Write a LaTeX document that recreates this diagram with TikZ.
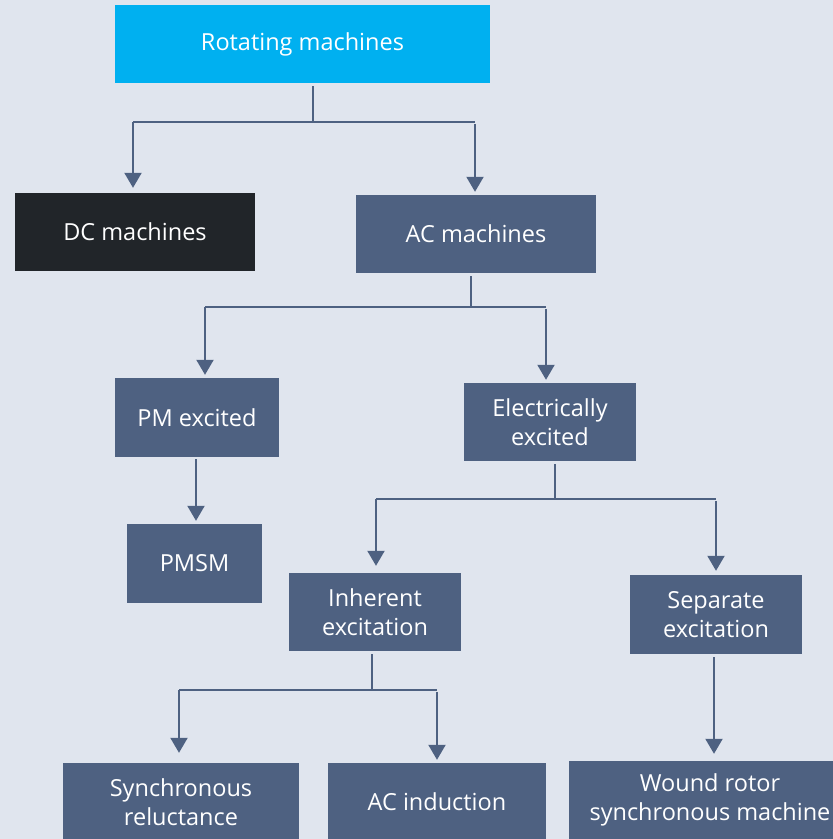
\documentclass[tikz,border=0pt]{standalone}
\usepackage{fontspec}
\setmainfont{Open Sans}
\usetikzlibrary{arrows.meta, positioning}
\definecolor{bgpanel}{HTML}{E0E5EE}
\definecolor{topcyan}{HTML}{00B0F0}
\definecolor{dcdark}{HTML}{212529}
\definecolor{slate}{HTML}{4E6181}

\begin{document}
\begin{tikzpicture}[x=1pt, y=-1pt,
    machine/.style={rectangle, fill=slate, text=white, align=center, inner sep=0pt, minimum height=78pt, font=\fontsize{23.5}{29}\selectfont},
    arrow/.style={-{Triangle[width=17pt, length=15pt]}, line width=2pt, draw=slate},
    branch/.style={line width=1.5pt, draw=slate, shorten <=3pt}
]
\fill[bgpanel] (0,0) rectangle (833,839);
\useasboundingbox (0,0) rectangle (833,839);
\begin{scope}
\clip (0,0) rectangle (833,839);
\node[machine, fill=topcyan, minimum width=375pt] (rot) at (302.5,44) {Rotating machines};
\node[machine, fill=dcdark, minimum width=240pt] (dc) at (135,232) {DC machines};
\node[machine, minimum width=240pt] (ac) at (476,234) {AC machines};
\node[machine, minimum width=164pt, minimum height=79pt] (pm) at (197,417.5) {PM excited};
\node[machine, minimum width=172pt] (elec) at (550,422) {Electrically\\excited};
\node[machine, minimum width=135pt, minimum height=79pt] (pmsm) at (194.5,563.5) {PMSM};
\node[machine, minimum width=172pt] (inh) at (375,612) {Inherent\\excitation};
\node[machine, minimum width=172pt, minimum height=79pt] (sep) at (716,614.5) {Separate\\excitation};
\node[machine, minimum width=236pt] (syn) at (181,802) {Synchronous\\reluctance};
\node[machine, minimum width=218pt] (ind) at (437,802) {AC induction};
\node[machine, minimum width=282pt] (wound) at (710,800) {Wound rotor\\synchronous machine};
\end{scope}

% branch points
\coordinate (j1) at (313,122);
\coordinate (j1l) at (133,122);
\coordinate (j1r) at (475,122);
\coordinate (j2) at (471,307);
\coordinate (j2l) at (205,307);
\coordinate (j2r) at (546,307);
\coordinate (j3) at (555,499);
\coordinate (j3l) at (376,499);
\coordinate (j3r) at (716,499);
\coordinate (j4) at (372,690);
\coordinate (j4l) at (179,690);
\coordinate (j4r) at (437,690);

\draw[branch] (j1 |- rot.south) -- (j1);
\draw[branch, shorten <=0pt] (j1l) -- (j1r);
\draw[arrow, shorten >=5pt] (j1l) -- (j1l |- dc.north);
\draw[arrow, shorten <=2pt, shorten >=3pt] (j1r) -- (j1r |- ac.north);

\draw[branch] (j2 |- ac.south) -- (j2);
\draw[branch, shorten <=0pt] (j2l) -- (j2r);
\draw[arrow, shorten >=3pt] (j2l) -- (j2l |- pm.north);
\draw[arrow, shorten <=2pt, shorten >=3pt] (j2r) -- (j2r |- elec.north);

\coordinate (pmx) at (196,0);
\draw[arrow, shorten <=2pt, shorten >=3pt] (pmx |- pm.south) -- (pmx |- pmsm.north);

\draw[branch] (j3 |- elec.south) -- (j3);
\draw[branch, shorten <=0pt] (j3l) -- (j3r);
\draw[arrow, shorten >=7pt] (j3l) -- (j3l |- inh.north);
\draw[arrow, shorten <=2pt, shorten >=4pt] (j3r) -- (j3r |- sep.north);

\draw[branch] (j4 |- inh.south) -- (j4);
\draw[branch, shorten <=0pt] (j4l) -- (j4r);
\draw[arrow, shorten >=10pt] (j4l) -- (j4l |- syn.north);
\draw[arrow, shorten <=2pt, shorten >=3pt] (j4r) -- (j4r |- ind.north);

\coordinate (sepx) at (714,0);
\draw[arrow, shorten <=3pt, shorten >=7pt] (sepx |- sep.south) -- (sepx |- wound.north);
\end{tikzpicture}
\end{document}
